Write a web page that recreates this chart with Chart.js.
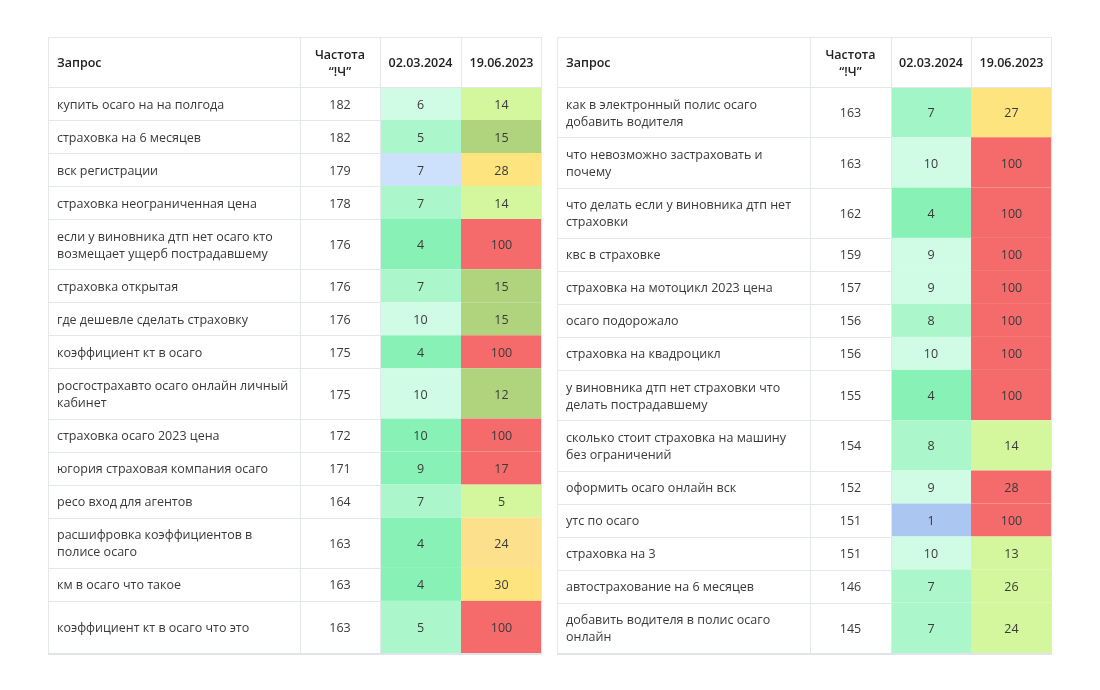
<!DOCTYPE html>
<html>
<head>
<meta charset="utf-8">
<script src="https://cdn.jsdelivr.net/npm/chart.js@4"></script>
<style>
  body { margin: 0; background: #ffffff; width: 1100px; height: 690px; position: relative; overflow: hidden; }
  canvas { position: absolute; }
  #leftTable { left: 48px; top: 37px; }
  #rightTable { left: 557px; top: 37px; }
</style>
</head>
<body>
<canvas id="leftTable" width="495" height="618"></canvas>
<canvas id="rightTable" width="496" height="618"></canvas>
<script>
// table headers
const headers = ['Запрос', 'Частота\n“!Ч”', '02.03.2024', '19.06.2023'];

// left table data
const leftQueries = [
  'купить осаго на на полгода',
  'страховка на 6 месяцев',
  'вск регистрации',
  'страховка неограниченная цена',
  'если у виновника дтп нет осаго кто\nвозмещает ущерб пострадавшему',
  'страховка открытая',
  'где дешевле сделать страховку',
  'коэффициент кт в осаго',
  'росгострахавто осаго онлайн личный\nкабинет',
  'страховка осаго 2023 цена',
  'югория страховая компания осаго',
  'ресо вход для агентов',
  'расшифровка коэффициентов в\nполисе осаго',
  'км в осаго что такое',
  'коэффициент кт в осаго что это'
];
const leftFreq = [182, 182, 179, 178, 176, 176, 176, 175, 175, 172, 171, 164, 163, 163, 163];
const leftPos2024 = [6, 5, 7, 7, 4, 7, 10, 4, 10, 10, 9, 7, 4, 4, 5];
const leftPos2023 = [14, 15, 28, 14, 100, 15, 15, 100, 12, 100, 17, 5, 24, 30, 100];

// right table data
const rightQueries = [
  'как в электронный полис осаго\nдобавить водителя',
  'что невозможно застраховать и\nпочему',
  'что делать если у виновника дтп нет\nстраховки',
  'квс в страховке',
  'страховка на мотоцикл 2023 цена',
  'осаго подорожало',
  'страховка на квадроцикл',
  'у виновника дтп нет страховки что\nделать пострадавшему',
  'сколько стоит страховка на машину\nбез ограничений',
  'оформить осаго онлайн вск',
  'утс по осаго',
  'страховка на 3',
  'автострахование на 6 месяцев',
  'добавить водителя в полис осаго\nонлайн'
];
const rightFreq = [163, 163, 162, 159, 157, 156, 156, 155, 154, 152, 151, 151, 146, 145];
const rightPos2024 = [7, 10, 4, 9, 9, 8, 10, 4, 8, 9, 1, 10, 7, 7];
const rightPos2023 = [27, 100, 100, 100, 100, 100, 100, 100, 14, 28, 100, 13, 26, 24];

// cell shading (style, kept apart from the values)
const palette = {
  mint0: '#d0fbe4', mint1: '#abf7cb', mint2: '#88f2b6', mintR: '#a2f5c6',
  blue0: '#cde0fc', blue1: '#abc6f0',
  lime: '#d4f69c', olive: '#b0d47e', yellow: '#fde47f', amber: '#fce08b', red: '#f56b6b'
};
const leftTone2024 = ['mint0','mint1','blue0','mint1','mint2','mint1','mint0','mint2','mint0','mint2','mint2','mint1','mint2','mint2','mint1'];
const leftTone2023 = ['lime','olive','yellow','lime','red','olive','olive','red','olive','red','red','lime','amber','yellow','red'];
const rightTone2024 = ['mintR','mint0','mint2','mint0','mint0','mint1','mint0','mint2','mint1','mint0','blue1','mint0','mint1','mint1'];
const rightTone2023 = ['yellow','red','red','red','red','red','red','red','lime','red','red','lime','lime','lime'];

// layout
const HEADER_H = 50;
const SINGLE_ROW = 33;
const DOUBLE_ROW = 50.3;
const TABLE_H = 616;
const LINE_GAP = 17;
const TEXT_SHIFT = 1.5;
const GRID = '#e4e7eb';
const TEXT = '#3a3a3a';
const FONT = '12.5px "Open Sans"';
const BOLD = '600 12.5px "Open Sans"';

function cumulative(list) {
  const out = [0];
  list.forEach(v => out.push(out[out.length - 1] + v));
  return out;
}

function drawLines(ctx, text, x, y) {
  const lines = text.split('\n');
  lines.forEach((ln, k) => {
    ctx.fillText(ln, x, y + TEXT_SHIFT + (k - (lines.length - 1) / 2) * LINE_GAP);
  });
}

function buildTable(canvasId, queries, freq, pos24, pos23, tone24, tone23, colWidths) {
  const rowH = queries.map(q => q.includes('\n') ? DOUBLE_ROW : SINGLE_ROW);
  const used = HEADER_H + rowH.reduce((a, b) => a + b, 0);
  rowH[rowH.length - 1] += TABLE_H - used;
  const rowEdges = cumulative([HEADER_H].concat(rowH));
  const colEdges = cumulative(colWidths);
  const canvas = document.getElementById(canvasId);

  const tablePlugin = {
    id: 'tableCells',
    beforeDatasetsDraw(chart) {
      const ctx = chart.ctx;
      const xs = chart.scales.x, ys = chart.scales.y;
      const px = v => xs.getPixelForValue(v);
      const py = v => ys.getPixelForValue(v);
      const right = px(colEdges[4]);
      const bottom = py(rowEdges[rowEdges.length - 1]);

      ctx.save();
      ctx.fillStyle = '#ffffff';
      ctx.fillRect(px(0), py(0), right - px(0), bottom - py(0));

      // coloured cells
      queries.forEach((q, i) => {
        const top = py(rowEdges[i + 1]), bot = py(rowEdges[i + 2]);
        ctx.fillStyle = palette[tone24[i]];
        ctx.fillRect(px(colEdges[2]), top, px(colEdges[3]) - px(colEdges[2]), bot - top);
        ctx.fillStyle = palette[tone23[i]];
        ctx.fillRect(px(colEdges[3]), top, px(colEdges[4]) - px(colEdges[3]), bot - top);
      });

      // grid lines
      ctx.strokeStyle = GRID;
      ctx.lineWidth = 1;
      ctx.beginPath();
      rowEdges.slice(1, -1).forEach((e, k) => {
        const y = Math.round(py(e)) + 0.5;
        const xEnd = k === 0 ? right : px(colEdges[2]);
        ctx.moveTo(px(0), y);
        ctx.lineTo(xEnd, y);
      });
      [1, 2].forEach(c => {
        const x = Math.round(px(colEdges[c])) + 0.5;
        ctx.moveTo(x, py(0));
        ctx.lineTo(x, bottom);
      });
      const hx = Math.round(px(colEdges[3])) + 0.5;
      ctx.moveTo(hx, py(0));
      ctx.lineTo(hx, py(rowEdges[1]));
      ctx.stroke();

      // outer frame
      ctx.strokeRect(px(0) + 0.5, py(0) + 0.5, Math.round(right - px(0)) - 1, Math.round(bottom - py(0)));
      ctx.fillStyle = '#e1e4e8';
      ctx.fillRect(px(0), Math.round(bottom), right - px(0), 2);

      // header text
      ctx.textBaseline = 'middle';
      ctx.fillStyle = '#222222';
      ctx.font = BOLD;
      const hy = py(HEADER_H / 2);
      ctx.textAlign = 'left';
      drawLines(ctx, headers[0], px(9), hy);
      ctx.textAlign = 'center';
      for (let c = 1; c < 4; c++) {
        drawLines(ctx, headers[c], px((colEdges[c] + colEdges[c + 1]) / 2), hy);
      }

      // body text
      ctx.font = FONT;
      ctx.fillStyle = TEXT;
      queries.forEach((q, i) => {
        const cy = py((rowEdges[i + 1] + rowEdges[i + 2]) / 2);
        ctx.textAlign = 'left';
        drawLines(ctx, q, px(9), cy);
        ctx.textAlign = 'center';
        drawLines(ctx, String(freq[i]), px((colEdges[1] + colEdges[2]) / 2), cy);
        drawLines(ctx, String(pos24[i]), px((colEdges[2] + colEdges[3]) / 2), cy);
        drawLines(ctx, String(pos23[i]), px((colEdges[3] + colEdges[4]) / 2), cy);
      });
      ctx.restore();
    }
  };

  return new Chart(canvas.getContext('2d'), {
    type: 'scatter',
    data: {
      datasets: [{
        label: 'Запрос',
        data: queries.map((q, i) => ({ x: colEdges[0] + colWidths[0] / 2, y: (rowEdges[i + 1] + rowEdges[i + 2]) / 2 })),
        pointRadius: 0,
        pointHoverRadius: 0
      }]
    },
    options: {
      responsive: false,
      animation: false,
      devicePixelRatio: 1,
      layout: { padding: 0 },
      plugins: { legend: { display: false }, tooltip: { enabled: false } },
      scales: {
        x: { type: 'linear', display: false, min: 0, max: canvas.width },
        y: { type: 'linear', display: false, min: 0, max: canvas.height, reverse: true }
      }
    },
    plugins: [tablePlugin]
  });
}

document.fonts.load(FONT).then(() => document.fonts.load(BOLD)).finally(() => {
  buildTable('leftTable', leftQueries, leftFreq, leftPos2024, leftPos2023, leftTone2024, leftTone2023, [252, 80, 81, 81]);
  buildTable('rightTable', rightQueries, rightFreq, rightPos2024, rightPos2023, rightTone2024, rightTone2023, [253, 81, 80, 81]);
});
</script>
</body>
</html>
